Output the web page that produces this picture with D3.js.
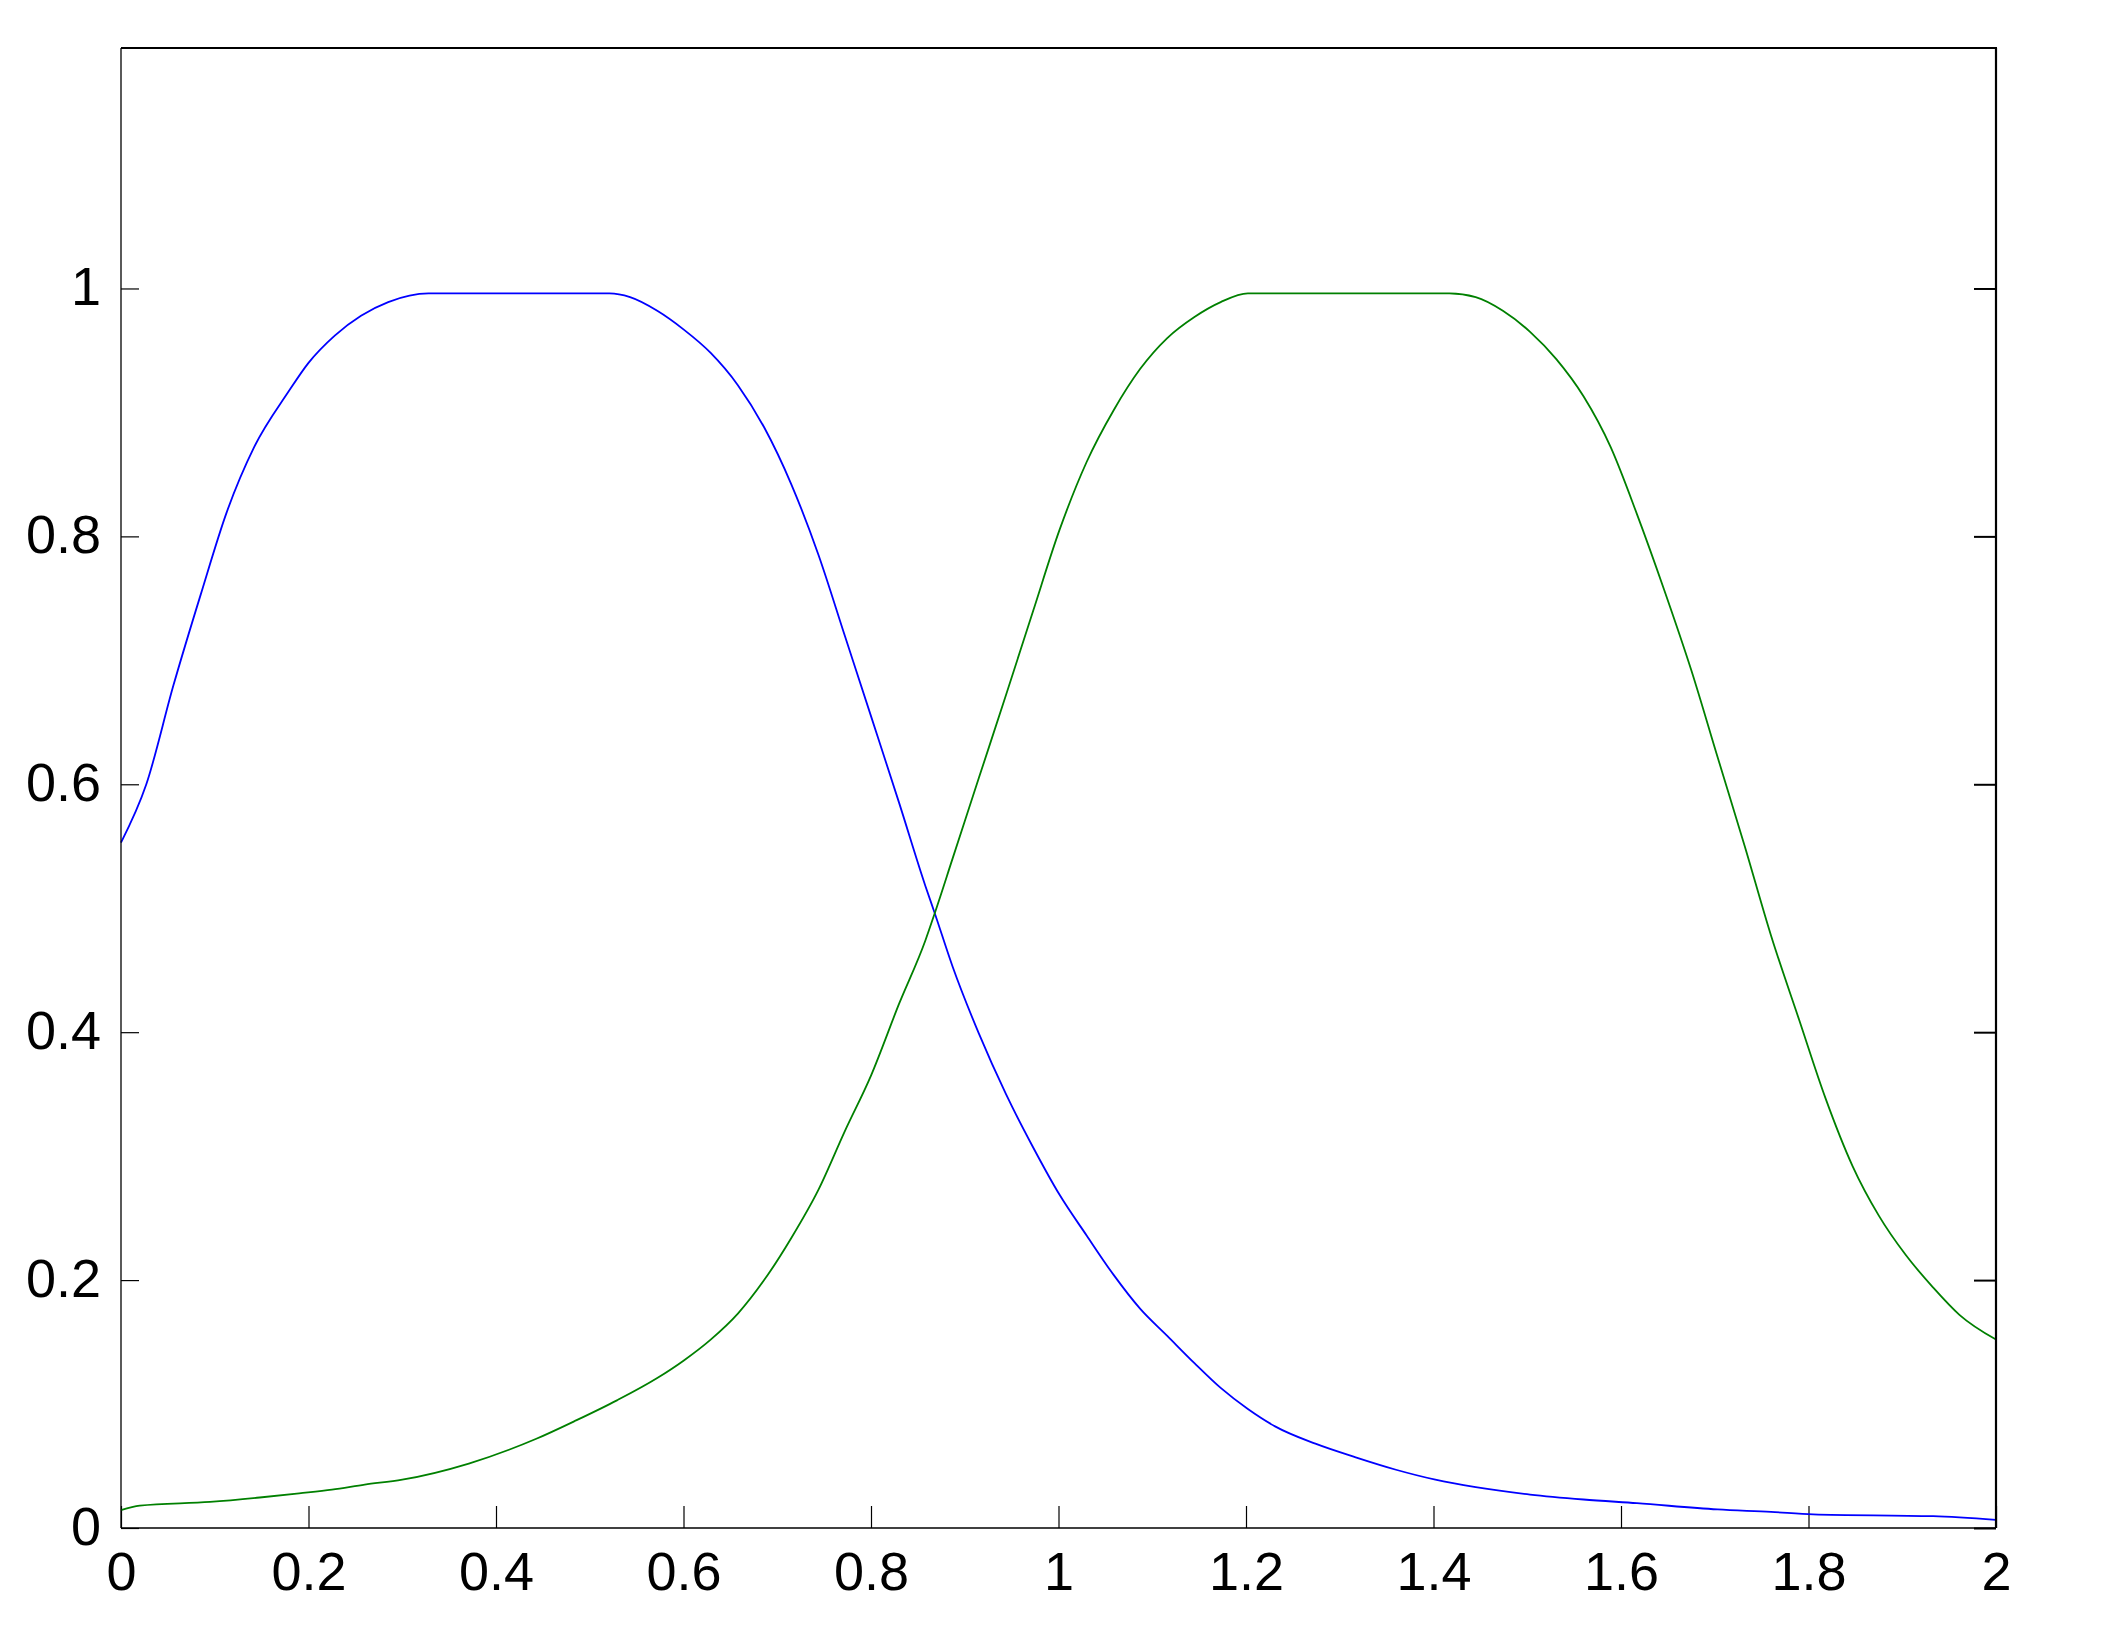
<!DOCTYPE html>
<html>
<head>
<meta charset="utf-8">
<script src="https://cdn.jsdelivr.net/npm/d3@7"></script>
<style>
  html, body { margin: 0; padding: 0; background: #fff; }
  svg { display: block; }
  .tick text { font-family: "Liberation Sans", Arial, sans-serif; }
</style>
</head>
<body>
<svg id="chart" width="2105" height="1636"></svg>
<script>
// ---- data ----
const xTicks = [0, 0.2, 0.4, 0.6, 0.8, 1, 1.2, 1.4, 1.6, 1.8, 2];
const yTicks = [0, 0.2, 0.4, 0.6, 0.8, 1];

const blueX = [0, 0.027, 0.056, 0.085, 0.113, 0.142, 0.178, 0.2, 0.228, 0.256, 0.285, 0.328,
  0.521, 0.543, 0.572, 0.6, 0.629, 0.658, 0.686, 0.715, 0.744, 0.772, 0.8, 0.83, 0.858, 0.868,
  0.887, 0.915, 0.944, 0.973, 1.001, 1.03, 1.059, 1.087, 1.116, 1.145, 1.173, 1.202, 1.231,
  1.274, 1.317, 1.36, 1.402, 1.445, 1.503, 1.56, 1.617, 1.703, 1.76, 1.805, 1.933, 2];
const blueY = [0.553, 0.6, 0.68, 0.753, 0.82, 0.872, 0.916, 0.94, 0.962, 0.978, 0.989, 0.996,
  0.996, 0.993, 0.982, 0.967, 0.948, 0.922, 0.888, 0.842, 0.785, 0.72, 0.655, 0.585, 0.518, 0.496,
  0.453, 0.399, 0.35, 0.307, 0.269, 0.236, 0.204, 0.177, 0.155, 0.133, 0.113, 0.096, 0.082,
  0.068, 0.057, 0.047, 0.039, 0.033, 0.027, 0.023, 0.02, 0.015, 0.013, 0.011, 0.0095, 0.0065];

const greenX = [0, 0.02, 0.095, 0.148, 0.19, 0.225, 0.26, 0.3, 0.371, 0.443, 0.486, 0.529, 0.572,
  0.6, 0.629, 0.658, 0.686, 0.715, 0.744, 0.772, 0.8, 0.83, 0.858, 0.868, 0.887, 0.915, 0.944,
  0.973, 1.001, 1.03, 1.059, 1.087, 1.116, 1.145, 1.173, 1.202, 1.417, 1.445, 1.474, 1.503,
  1.531, 1.56, 1.589, 1.617, 1.646, 1.675, 1.703, 1.732, 1.76, 1.79, 1.818, 1.847, 1.875,
  1.904, 1.933, 1.961, 2];
const greenY = [0.0145, 0.018, 0.021, 0.0246, 0.028, 0.031, 0.035, 0.039, 0.052, 0.072, 0.087, 0.103, 0.121,
  0.135, 0.152, 0.173, 0.2, 0.234, 0.273, 0.32, 0.365, 0.423, 0.474, 0.496, 0.54, 0.605, 0.672,
  0.74, 0.805, 0.86, 0.902, 0.935, 0.96, 0.977, 0.989, 0.996, 0.996, 0.993, 0.982, 0.965,
  0.943, 0.913, 0.872, 0.818, 0.757, 0.692, 0.622, 0.55, 0.478, 0.41, 0.347, 0.292, 0.252,
  0.22, 0.194, 0.172, 0.152];

// ---- layout ----
const L = 121, R = 1996, T = 48, B = 1528;
const svg = d3.select("#chart");

const x = d3.scaleLinear().domain([0, 2]).range([L, R]);
const y = d3.scaleLinear().domain([0, 1.194]).range([B, T]);

const fmt = d => String(d);
const fontSize = 54;

// bottom axis with labels (ticks inward)
const gB = svg.append("g").attr("transform", `translate(0,${B})`)
  .call(d3.axisBottom(x).tickValues(xTicks).tickFormat(fmt).tickSizeInner(-22).tickSizeOuter(0).tickPadding(24));
gB.select(".domain").remove();
gB.selectAll(".tick line").attr("stroke", "#000").attr("stroke-width", 1.2);
gB.selectAll(".tick text").attr("font-size", fontSize).attr("fill", "#000").attr("dy", "0.71em");

// left axis with labels
const gL = svg.append("g").attr("transform", `translate(${L},0)`)
  .call(d3.axisLeft(y).tickValues(yTicks).tickFormat(fmt).tickSizeInner(-18).tickSizeOuter(0).tickPadding(20));
gL.select(".domain").remove();
gL.selectAll(".tick line").attr("stroke", "#000").attr("stroke-width", 1.2);
gL.selectAll(".tick text").attr("font-size", fontSize).attr("fill", "#000").attr("dy", "0.3em");

// right mirrored ticks
const gR = svg.append("g").attr("transform", `translate(${R},0)`)
  .call(d3.axisRight(y).tickValues(yTicks).tickFormat("").tickSizeInner(-22).tickSizeOuter(0));
gR.select(".domain").remove();
gR.selectAll(".tick line").attr("stroke", "#000").attr("stroke-width", 2);

// curves
const blue = blueX.map((v, i) => [v, blueY[i]]);
const green = greenX.map((v, i) => [v, greenY[i]]);
const line = d3.line().x(d => x(d[0])).y(d => y(d[1])).curve(d3.curveMonotoneX);

svg.append("path").datum(blue).attr("d", line)
  .attr("fill", "none").attr("stroke", "#0000ff").attr("stroke-width", 1.8);
svg.append("path").datum(green).attr("d", line)
  .attr("fill", "none").attr("stroke", "#008000").attr("stroke-width", 1.8);

// box: left/bottom thin, top/right thick
svg.append("line").attr("x1", L).attr("x2", L).attr("y1", T).attr("y2", B)
  .attr("stroke", "#000").attr("stroke-width", 1.3);
svg.append("line").attr("x1", L).attr("x2", R).attr("y1", B).attr("y2", B)
  .attr("stroke", "#000").attr("stroke-width", 1.3);
svg.append("line").attr("x1", L).attr("x2", R + 1).attr("y1", T).attr("y2", T)
  .attr("stroke", "#000").attr("stroke-width", 2.2);
svg.append("line").attr("x1", R).attr("x2", R).attr("y1", T).attr("y2", B)
  .attr("stroke", "#000").attr("stroke-width", 2.2);
</script>
</body>
</html>
